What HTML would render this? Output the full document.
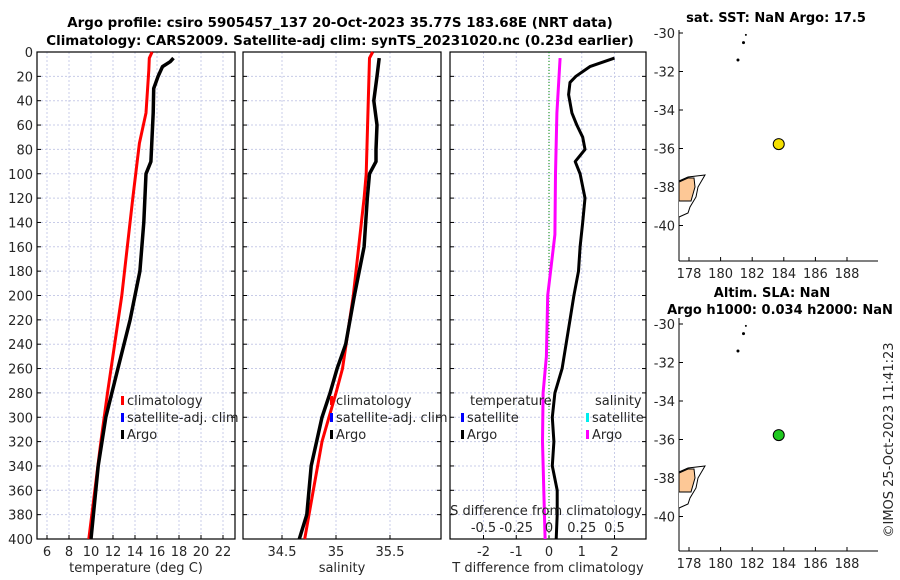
<!DOCTYPE html>
<html><head><meta charset="utf-8">
<style>
body{margin:0;background:#fff;}
svg{display:block;font-family:"DejaVu Sans","Liberation Sans",sans-serif;}
.t{font-size:13px;fill:#262626;}
.b{font-size:13.4px;font-weight:bold;fill:#000;}
.bm{font-size:13px;font-weight:bold;fill:#000;}
.g{stroke:#c8cce8;stroke-width:1;stroke-dasharray:2,2;}
</style></head>
<body>
<svg id="c" width="900" height="580" xmlns="http://www.w3.org/2000/svg">
<text class="b" x="340" y="27" text-anchor="middle">Argo profile: csiro 5905457_137 20-Oct-2023 35.77S 183.68E (NRT data)</text>
<text class="b" x="340" y="45" text-anchor="middle">Climatology: CARS2009. Satellite-adj clim: synTS_20231020.nc (0.23d earlier)</text>
<text class="bm" x="776" y="22" text-anchor="middle">sat. SST: NaN Argo: 17.5</text>
<text class="bm" x="772" y="297" text-anchor="middle">Altim. SLA: NaN</text>
<text class="bm" x="780" y="314" text-anchor="middle">Argo h1000: 0.034 h2000: NaN</text>
<text class="t" transform="translate(893,440) rotate(-90)" text-anchor="middle">©IMOS 25-Oct-2023 11:41:23</text>
<g id="plots"></g>
</svg>
<script>
// depth axis ticks
const depthTicks=[0,20,40,60,80,100,120,140,160,180,200,220,240,260,280,300,320,340,360,380,400];
// temperature panel
const tTicks=[6,8,10,12,14,16,18,20,22];
const tClimDepth=[0,5,15,50,75,120,200,280,320,400];
const tClimVal=[15.55,15.3,15.25,15.0,14.4,13.8,12.8,11.5,10.9,9.8];
const tArgoDepth=[5,8,12,20,30,50,90,100,140,180,220,260,300,340,400];
const tArgoVal=[17.5,17.2,16.5,16.1,15.7,15.65,15.45,15.0,14.8,14.45,13.55,12.45,11.35,10.65,10.0];
// salinity panel
const sTicks=[34.5,35,35.5];
const sClimDepth=[0,5,100,120,200,260,280,320,360,400];
const sClimVal=[35.34,35.31,35.28,35.26,35.16,35.06,35.0,34.87,34.79,34.71];
const sArgoDepth=[5,20,40,60,80,90,100,120,160,200,240,260,280,300,320,340,360,380,400];
const sArgoVal=[35.40,35.38,35.35,35.38,35.37,35.37,35.31,35.29,35.26,35.17,35.09,35.01,34.945,34.87,34.82,34.77,34.75,34.73,34.66];
// difference panel
const dTicks=[-2,-1,0,1,2];
const dsTicks=[-0.5,-0.25,0,0.25,0.5];
const dsTickLabels=["-0.5","-0.25","0","0.25","0.5"];
const dtDepth=[5,12,20,25,35,50,60,70,80,90,100,120,140,160,180,200,220,260,280,300,320,340,360,380,400];
const dtVal=[2.0,1.25,0.82,0.64,0.6,0.7,0.85,1.03,1.1,0.8,0.95,1.1,1.03,0.95,0.9,0.76,0.64,0.4,0.18,0.1,0.15,0.1,0.25,0.25,0.22];
const dsDepth=[5,50,100,150,200,250,280,320,360,400];
const dsVal=[0.085,0.06,0.05,0.045,-0.01,-0.02,-0.045,-0.05,-0.04,-0.03];
// maps
const lonTicks=[178,180,182,184,186,188];
const latTicks=[-30,-32,-34,-36,-38,-40];
const floatLon=183.68, floatLat=-35.77;

const NS="http://www.w3.org/2000/svg";
const root=document.getElementById('plots');
function el(t,a,p){const e=document.createElementNS(NS,t);for(const k in a)e.setAttribute(k,a[k]);(p||root).appendChild(e);return e;}
const pTop=52,pBot=539;
function yD(d){return pTop+(d/400)*(pBot-pTop);}
function line(xs,ds,fx,col,w,name){
  const pts=xs.map((v,i)=>fx(v).toFixed(1)+","+yD(ds[i]).toFixed(1)).join(" ");
  const p=el('polyline',{points:pts,fill:'none',stroke:col,'stroke-width':w,'stroke-linejoin':'round'});
  
  
}
function panel(x0,x1,fx,ticks,labels,xlabel,name,showY){
  const g=el('g',{});
  
  
  depthTicks.forEach(d=>{if(d>0&&d<400)el('line',{x1:x0,x2:x1,y1:yD(d),y2:yD(d),class:'g'},g);});
  ticks.forEach((v,i)=>{const x=fx(v);el('line',{x1:x,x2:x,y1:pTop,y2:pBot,class:'g'},g);
    el('line',{x1:x,x2:x,y1:pBot,y2:pBot-4,stroke:'#000'},g);
    const t=el('text',{x:x,y:pBot+17,'text-anchor':'middle',class:'t'},g);t.textContent=labels[i];});
  depthTicks.forEach(d=>{el('line',{x1:x0,x2:x0+4,y1:yD(d),y2:yD(d),stroke:'#000'},g);el('line',{x1:x1,x2:x1-4,y1:yD(d),y2:yD(d),stroke:'#000'},g);
    if(showY){const t=el('text',{x:x0-4,y:yD(d)+5,'text-anchor':'end',class:'t'},g);t.textContent=d;}});
  el('rect',{x:x0,y:pTop,width:x1-x0,height:pBot-pTop,fill:'none',stroke:'#000','stroke-width':1.2},g);
  const xl=el('text',{x:(x0+x1)/2,y:572,'text-anchor':'middle',class:'t'},g);xl.textContent=xlabel;
  return g;
}
// Panel 1
const fT=v=>36+(v-5)*11;
panel(37,235,fT,tTicks,tTicks.map(String),"temperature (deg C)","temperature-panel",true);
line(tClimVal,tClimDepth,fT,'#f00',3,'temperature-climatology-line');
line(tArgoVal,tArgoDepth,fT,'#000',3.5,'temperature-argo-line');
// Panel 2
const fS=v=>336+(v-35)*108;
panel(243,441,fS,sTicks,["34.5","35","35.5"],"salinity","salinity-panel",false);
line(sClimVal,sClimDepth,fS,'#f00',3,'salinity-climatology-line');
line(sArgoVal,sArgoDepth,fS,'#000',3.5,'salinity-argo-line');
// Panel 3
const fD=v=>549+v*32.75;
const fDS=v=>549+v*131;
panel(450,646,fD,dTicks,dTicks.map(String),"T difference from climatology","difference-panel",false);
el('line',{x1:fD(0),x2:fD(0),y1:pTop,y2:pBot,stroke:'#080','stroke-width':1,'stroke-dasharray':'1,2'});
line(dsVal,dsDepth,fDS,'#f0f',3,'salinity-diff-argo-line');
line(dtVal,dtDepth,fD,'#000',3,'temperature-diff-argo-line');
dsTicks.forEach((v,i)=>{const t=el('text',{x:fDS(v),y:532,'text-anchor':'middle',class:'t'});t.textContent=dsTickLabels[i];
  
  });
{const t=el('text',{x:546,y:515,'text-anchor':'middle',class:'t'});t.textContent="S difference from climatology";

}
// legends
function legend(x,y,items,name){
  const g=el('g',{});
  
  
  items.forEach((it,i)=>{const yy=y+i*17;
    if(it[1])el('rect',{x:x,y:yy-9,width:3,height:9,fill:it[1]},g);
    const t=el('text',{x:x+(it[1]?6:0),y:yy,class:'t'},g);t.textContent=it[0];});
}
legend(121,405,[["climatology","#f00"],["satellite-adj. clim","#00f"],["Argo","#000"]],"temperature-legend");
legend(330,405,[["climatology","#f00"],["satellite-adj. clim","#00f"],["Argo","#000"]],"salinity-legend");
legend(470,405,[["temperature",null]],"diff-legend-header-t");
legend(461,422,[["satellite","#00f"],["Argo","#000"]],"diff-legend-temperature");
legend(595,405,[["salinity",null]],"diff-legend-header-s");
legend(586,422,[["satellite","#0ee"],["Argo","#f0f"]],"diff-legend-salinity");
// maps
function map(yT,yB,lat30,color,name){
  const g=el('g',{});
  
  
  const fx=l=>689+(l-178)*15.8, fy=la=>lat30+(-30-la)*19.25;
  el('line',{x1:679,x2:679,y1:yT,y2:yB,stroke:'#000'},g);
  el('line',{x1:679,x2:878,y1:yB,y2:yB,stroke:'#000'},g);
  lonTicks.forEach(l=>{el('line',{x1:fx(l),x2:fx(l),y1:yB,y2:yB-4,stroke:'#000'},g);
    const t=el('text',{x:fx(l),y:yB+17,'text-anchor':'middle',class:'t'},g);t.textContent=l;});
  latTicks.forEach(la=>{el('line',{x1:679,x2:683,y1:fy(la),y2:fy(la),stroke:'#000'},g);
    const t=el('text',{x:675,y:fy(la)+5,'text-anchor':'end',class:'t'},g);t.textContent=la;});
  const b=fy(-38);
  el('path',{d:`M679 ${b-6} L688 ${b-10} L705 ${b-12} L698 ${b} L696 ${b+10} L690 ${b+20} L688 ${b+26} L679 ${b+30}`,fill:'#fff',stroke:'#000','stroke-width':1},g);
  el('path',{d:`M679 ${b-5} L688 ${b-9} L694 ${b-9} L695 ${b} L691 ${b+14} L679 ${b+14} Z`,fill:'#fdc896',stroke:'#000','stroke-width':1},g);
  el('circle',{cx:fx(181.1),cy:fy(-31.4),r:1.5,fill:'#000'},g);
  el('circle',{cx:fx(181.45),cy:fy(-30.5),r:1.5,fill:'#000'},g);
  el('circle',{cx:fx(181.6),cy:fy(-30.1),r:1,fill:'#000'},g);
  const c=el('circle',{cx:fx(floatLon),cy:fy(floatLat),r:5.5,fill:color,stroke:'#000','stroke-width':1},g);
  
  
}
map(30,261,33,'#f5e000','sst-map');
map(318,551,324,'#1ec81e','sla-map');
</script>
</body></html>
